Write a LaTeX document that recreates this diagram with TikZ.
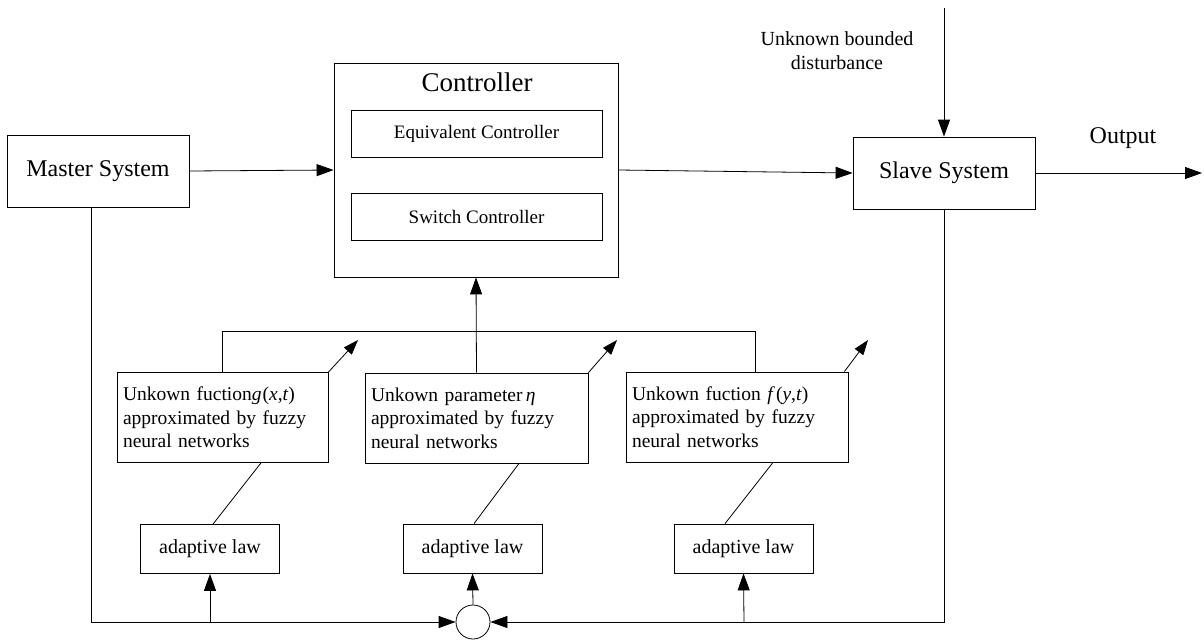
\documentclass[tikz,border=0pt]{standalone}
\usepackage{fontspec}
\setmainfont{Liberation Serif}
\usetikzlibrary{arrows.meta,calc}
\begin{document}
\begin{tikzpicture}[x=1pt,y=-1pt,
  line width=0.8pt,
  box/.style={draw, rectangle, inner sep=0pt, line width=0.8pt},
  bigtxt/.style={font=\fontsize{24}{28}\selectfont},
  midtxt/.style={font=\fontsize{19.5}{23.5}\selectfont},
  fbox/.style={box, inner xsep=6pt, align=left, minimum height=90pt, midtxt},
  adbox/.style={box, minimum width=139pt, minimum height=49pt, font=\fontsize{20}{24}\selectfont},
  arr/.style={-{Triangle[length=17pt,width=12pt]}},
  darr/.style={-{Triangle[length=15pt,width=10.5pt]}}]
\useasboundingbox (0,0) rectangle (1204,640);

% top row
\node[box, minimum width=182pt, minimum height=72pt, bigtxt] (master) at (98,171) {Master System};
\node[box, minimum width=284pt, minimum height=214pt] (ctrl) at (476,170) {};
\node[font=\fontsize{27}{31}\selectfont] (ctitle) at (477,82) {Controller};
\node[box, minimum width=251pt, minimum height=47pt, font=\fontsize{19}{23}\selectfont] (equiv) at (476.5,133.5) {Equivalent Controller};
\node[box, minimum width=251pt, minimum height=47pt, font=\fontsize{19}{23}\selectfont] (switch) at (476.5,216.5) {Switch Controller};
\node[box, minimum width=182pt, minimum height=72pt, bigtxt] (slave) at (944,173) {Slave System};
\node[bigtxt] (outlbl) at (1123,138) {Output};
\node[align=center, font=\fontsize{20}{24}\selectfont] (dist) at (837,51) {Unknown bounded\\disturbance};
\coordinate (dtop) at (944,8);
\coordinate (outend) at (1202,173);

% function boxes
\node[fbox, text width=199pt] (f1) at (222.5,417.5) {Unkown fuction\textit{g}\kern1pt(\textit{x},\textit{t})\\approximated by fuzzy\\neural networks};
\node[fbox, text width=211pt] (f2) at (476.5,418) {Unkown parameter\,\textit{η}\\approximated by fuzzy\\neural networks};
\node[fbox, text width=210pt] (f3) at (737,417) {Unkown fuction \textit{f}\kern1pt(\textit{y},\textit{t})\\approximated by fuzzy\\neural networks};

% adaptive law boxes
\node[adbox] (a1) at (210,549) {adaptive law};
\node[adbox] (a2) at (472.5,548.5) {adaptive law};
\node[adbox] (a3) at (743.5,548.5) {adaptive law};

% summing circle
\node[draw, circle, minimum size=34pt, inner sep=0pt] (sum) at (473,622) {};

% coordinates
\coordinate (h1) at (222,331);
\coordinate (h3) at (755,331);
\coordinate (d1) at (358,340);
\coordinate (d2) at (617,340);
\coordinate (d3) at (868,340);
\coordinate (mb) at (91,622);
\coordinate (sb) at (944,622);
\coordinate (b1) at (210,622);
\coordinate (b3) at (744,622);

% connectors
\draw[arr] (master.east) -- (ctrl.west);
\draw[arr] (ctrl.east) -- (slave.west);
\draw[arr] (dtop) -- (slave.north);
\draw[arr] (slave.east) -- (outend);

\draw (f1.north -| h1) -- (h1) -- (h3) -- (f3.north -| h3);
\draw[arr] (f2.north) -- (ctrl.south);

\draw[darr] (f1.north east) -- (d1);
\draw[darr] (f2.north east) -- (d2);
\draw[darr] ($(f3.north east)+(-4,0)$) -- (d3);

\draw ($(a1.north)+(3,0)$) -- ($(f1.south)+(38.5,0)$);
\draw ($(a2.north)+(1.5,0)$) -- ($(f2.south)+(42.5,0)$);
\draw ($(a3.north)+(-18.5,0)$) -- ($(f3.south)+(36,0)$);

\draw[arr] (master.south -| mb) -- (mb) -- (sum.west);
\draw[arr] (slave.south) -- (sb) -- (sum.east);
\draw[arr] (b1) -- (a1.south);
\draw[arr] (sum.north) -- (a2.south);
\draw[arr] (b3) -- (a3.south);
\end{tikzpicture}
\end{document}
